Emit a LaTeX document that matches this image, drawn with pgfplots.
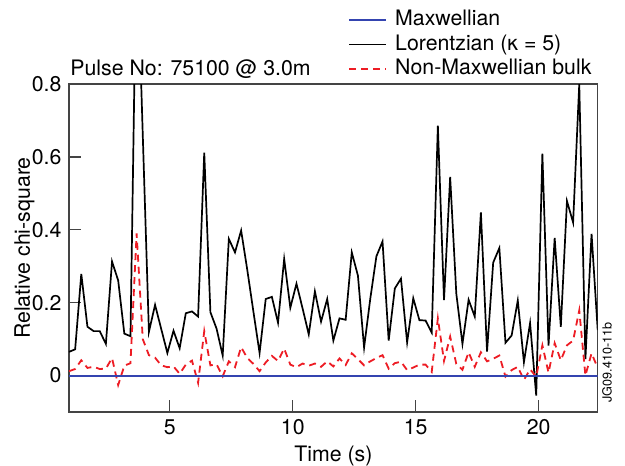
\documentclass[border=0pt]{standalone}
\usepackage{fontspec}
\setmainfont{TeX Gyre Heros}
\usepackage{pgfplots}
\pgfplotsset{compat=1.18}
\usepackage{pgfplotstable}

\definecolor{maxblue}{HTML}{3444B0}
\definecolor{bulkred}{HTML}{ED1C24}
\definecolor{frame}{HTML}{444444}

% Relative chi-square of the Lorentzian and non-Maxwellian bulk fits
\pgfplotstableread{
t     lor    bulk
0.90  0.065  0.012
1.15  0.072  0.018
1.40  0.279  0.042
1.65  0.134  0.021
1.90  0.122  0.024
2.15  0.122  0.018
2.40  0.087  0.019
2.65  0.313  0.048
2.90  0.261  -0.026
3.15  0.115  0.027
3.40  0.108  0.034
3.65  1.210  0.390
3.90  0.660  0.100
4.15  0.120  0.056
4.40  0.194  0.049
4.65  0.128  0.028
4.90  0.062  0.023
5.15  0.123  0.025
5.40  0.075  0.005
5.65  0.171  0.030
5.90  0.176  0.041
6.15  0.162  -0.020
6.40  0.612  0.122
6.65  0.174  0.028
6.90  0.129  0.031
7.15  0.055  -0.002
7.40  0.375  0.039
7.65  0.338  0.023
7.90  0.398  0.078
8.15  0.290  0.048
8.40  0.175  0.032
8.65  0.062  0.012
8.90  0.210  0.036
9.15  0.216  0.054
9.40  0.145  0.040
9.65  0.320  0.074
9.90  0.186  0.030
10.15 0.252  0.023
10.40 0.184  0.033
10.65 0.113  0.027
10.90 0.231  0.033
11.15 0.148  0.024
11.40 0.210  0.039
11.65 0.096  0.025
11.90 0.157  0.047
12.15 0.153  0.029
12.40 0.338  0.061
12.65 0.274  0.045
12.90 0.077  0.028
13.15 0.210  0.039
13.40 0.327  0.048
13.65 0.368  0.056
13.90 0.096  0.019
14.15 0.239  0.034
14.40 0.266  0.038
14.65 0.091  0.015
14.90 0.212  0.022
15.15 0.152  0.030
15.40 0.151  0.030
15.65 0.118  0.010
15.90 0.686  0.157
16.15 0.207  0.040
16.40 0.545  0.107
16.65 0.225  0.032
16.90 0.087  0.016
17.15 0.208  0.064
17.40 0.162  0.024
17.65 0.448  0.064
17.90 0.066  0.039
18.15 0.310  0.046
18.40 0.350  0.055
18.65 0.090  -0.003
18.90 0.110  0.015
19.15 0.206  0.024
19.40 0.037  -0.012
19.65 0.144  0.017
19.90 -0.055 -0.003
20.15 0.609  0.083
20.40 0.082  0.008
20.65 0.378  0.089
20.90 0.134  0.042
21.15 0.479  0.083
21.40 0.420  0.096
21.65 0.800  0.179
21.90 0.045  0.000
22.15 0.389  0.061
22.40 0.125  0.021
}\chisq

% Maxwellian fit: zero by construction over the whole pulse
\pgfplotstableread{
t     maxw
0.90  0
22.40 0
}\maxwell

\begin{document}
\fontsize{10.65bp}{12.8bp}\selectfont
\begin{tikzpicture}
\path[use as bounding box] (-34.5bp,-27bp) rectangle (278bp,206bp);
\begin{axis}[
  name=ax,
  at={(0,0)}, anchor=south west,
  scale only axis, width=264.35bp, height=164bp,
  xmin=0.9, xmax=22.4, ymin=-0.1, ymax=0.8,
  xtick={5,10,15,20}, ytick={0,0.2,0.4,0.6,0.8},
  tick align=inside, xtick pos=bottom, ytick pos=left,
  major tick length=6bp,
  axis line style={frame, line width=0.6bp},
  every tick/.style={frame, line width=0.6bp},
  /pgf/number format/assume math mode=true,
  ticklabel style={font=\fontsize{10.65bp}{12.8bp}\selectfont},
  xlabel={Time (s)}, ylabel={Relative chi-square},
  xlabel style={at={(axis description cs:0.5,-0.15)}, anchor=base},
  ylabel style={at={(axis description cs:-0.0738,0.5)}, anchor=base},
  legend cell align=left,
  legend image code/.code={\draw[#1] (0bp,0bp) -- (18.5bp,0bp);},
  legend style={at={(rel axis cs:0.5277,1)}, anchor=south west, yshift=2bp,
    draw=none, fill=none, inner sep=0pt, row sep=1.75bp,
    nodes={inner sep=0pt, text height=8bp, text depth=2.5bp, anchor=west},
    /tikz/every odd column/.append style={column sep=4bp}},
]
\addlegendimage{maxblue, line width=0.9bp}
\addlegendentry{Maxwellian}
\addplot[black, line width=0.85bp] table[x=t, y=lor] {\chisq};
\addlegendentry{Lorentzian (κ = 5)}
\addplot[bulkred, line width=0.9bp, dash pattern=on 3.5bp off 2.5bp] table[x=t, y=bulk] {\chisq};
\addlegendentry{Non-Maxwellian bulk}
% Maxwellian level, drawn over the other curves
\addplot[color=maxblue, line width=1bp, forget plot] table[x=t, y=maxw] {\maxwell};
\end{axis}
\node[anchor=base west, inner sep=0pt] at ([xshift=0.5bp, yshift=4.5bp]ax.north west) {Pulse No: 75100 @ 3.0m};
\node[rotate=90, anchor=base west, font=\fontsize{6.3bp}{7.5bp}\selectfont]
  at ([xshift=7bp, yshift=1bp]ax.south east) {JG09.410-11b};
\end{tikzpicture}
\end{document}
